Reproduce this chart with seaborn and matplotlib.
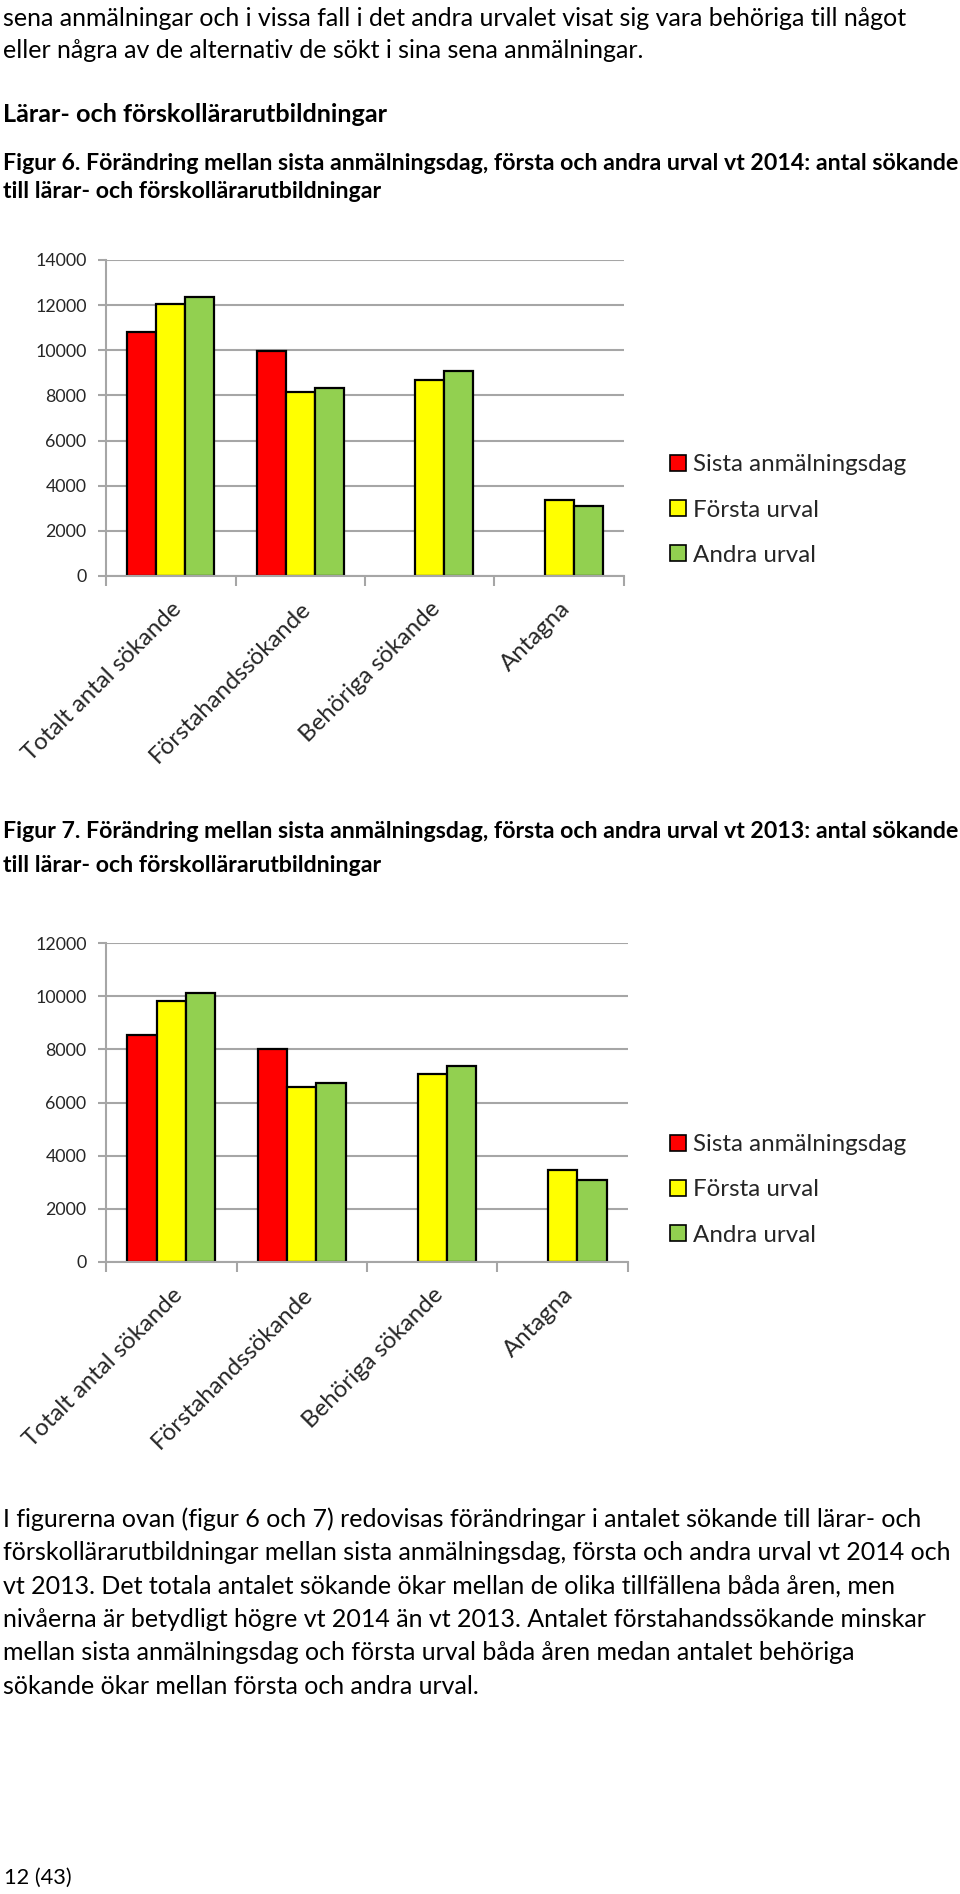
import matplotlib
matplotlib.use('Agg')
import matplotlib.pyplot as plt
import matplotlib.transforms as mtransforms
from matplotlib.patches import Patch
import seaborn as sns
import pandas as pd
import numpy as np

W, H = 960, 1894

# ---- data ----
categories = ['Totalt antal sökande', 'Förstahandssökande', 'Behöriga sökande', 'Antagna']
series = ['Sista anmälningsdag', 'Första urval', 'Andra urval']
colors = ['#FF0000', '#FFFF00', '#92D050']

sista_2014 = [10790, 9970, np.nan, np.nan]
forsta_2014 = [12060, 8160, 8680, 3360]
andra_2014 = [12380, 8340, 9090, 3100]

sista_2013 = [8530, 8020, np.nan, np.nan]
forsta_2013 = [9830, 6570, 7080, 3460]
andra_2013 = [10130, 6720, 7380, 3100]

ticks_2014 = [0, 2000, 4000, 6000, 8000, 10000, 12000, 14000]
ticks_2013 = [0, 2000, 4000, 6000, 8000, 10000, 12000]

# ---- texts ----
intro_lines = [
    'sena anmälningar och i vissa fall i det andra urvalet visat sig vara behöriga till något',
    'eller några av de alternativ de sökt i sina sena anmälningar.',
]
heading = 'Lärar- och förskollärarutbildningar'
fig6_lines = [
    'Figur 6. Förändring mellan sista anmälningsdag, första och andra urval vt 2014: antal sökande',
    'till lärar- och förskollärarutbildningar',
]
fig7_lines = [
    'Figur 7. Förändring mellan sista anmälningsdag, första och andra urval vt 2013: antal sökande',
    'till lärar- och förskollärarutbildningar',
]
body_lines = [
    'I figurerna ovan (figur 6 och 7) redovisas förändringar i antalet sökande till lärar- och',
    'förskollärarutbildningar mellan sista anmälningsdag, första och andra urval vt 2014 och',
    'vt 2013. Det totala antalet sökande ökar mellan de olika tillfällena båda åren, men',
    'nivåerna är betydligt högre vt 2014 än vt 2013. Antalet förstahandssökande minskar',
    'mellan sista anmälningsdag och första urval båda åren medan antalet behöriga',
    'sökande ökar mellan första och andra urval.',
]
page_no = '12 (43)'

sns.set_theme(style='white')
plt.rcParams['font.family'] = ['Lato', 'DejaVu Sans']

fig = plt.figure(figsize=(W / 100, H / 100), dpi=100)
fig.patch.set_facecolor('white')

FONT = ['Lato', 'DejaVu Sans']
BODY_SIZE = 18.0
CAPTION_SIZE = 16.7


def px_text(x, y, s, **kw):
    fig.text(x / W, 1 - y / H, s, va='center', ha='left', family=FONT, color='black', **kw)


def make_df(sista, forsta, andra):
    rows = []
    for name, vals in zip(series, [sista, forsta, andra]):
        for cat, v in zip(categories, vals):
            rows.append({'kategori': cat, 'serie': name, 'antal': v})
    return pd.DataFrame(rows)


def draw_chart(box, df, yticks):
    x0, y_top, x1, y_bot = box
    ax = fig.add_axes([x0 / W, 1 - y_bot / H, (x1 - x0) / W, (y_bot - y_top) / H])
    sns.barplot(data=df, x='kategori', y='antal', hue='serie', hue_order=series,
                order=categories, palette=colors, width=0.674, errorbar=None,
                edgecolor='black', linewidth=1.6, saturation=1, legend=False, ax=ax)
    ax.set_xlim(-0.5, len(categories) - 0.5)
    ax.set_ylim(yticks[0], yticks[-1])
    ax.set_yticks(yticks)
    ax.set_yticklabels([str(t) for t in yticks], family=FONT, fontsize=12.8)
    ax.yaxis.grid(True, color='#A6A6A6', linewidth=1.5)
    ax.set_axisbelow(True)
    ax.set_xlabel('')
    ax.set_ylabel('')
    for s in ['top', 'right']:
        ax.spines[s].set_visible(False)
    for s in ['left', 'bottom']:
        ax.spines[s].set_color('#A6A6A6')
        ax.spines[s].set_linewidth(1.5)
    ax.tick_params(axis='y', length=6, width=1.5, color='#A6A6A6', pad=8, direction='out', left=True)
    # category boundary ticks on x
    ax.set_xticks(np.arange(-0.5, len(categories), 1.0), minor=True)
    ax.tick_params(axis='x', which='minor', length=7, width=1.5, color='#A6A6A6', direction='out', bottom=True)
    ax.set_xticks(range(len(categories)))
    ax.set_xticklabels(categories, rotation=45, ha='right', rotation_mode='anchor',
                       family=FONT, fontsize=17.3)
    ax.tick_params(axis='x', which='major', length=0, pad=16)
    offset = mtransforms.ScaledTranslation(0, 0, fig.dpi_scale_trans)
    for lab in ax.get_xticklabels():
        lab.set_transform(lab.get_transform() + offset)
    return ax


def draw_legend(ax, x, y_mid):
    handles = [Patch(facecolor=c, edgecolor='black', linewidth=1.2) for c in colors]
    leg = ax.legend(handles, series, loc='center left', frameon=False,
                    bbox_to_anchor=(x / W, 1 - y_mid / H),
                    bbox_transform=fig.transFigure, handlelength=0.65, handleheight=0.65,
                    handletextpad=0.3, labelspacing=1.0, borderpad=0,
                    prop={'family': FONT, 'size': 17.4})
    return leg


# ---- page text ----
px_text(3, 18, intro_lines[0], fontsize=BODY_SIZE)
px_text(3, 50, intro_lines[1], fontsize=BODY_SIZE)
px_text(3, 115, heading, fontsize=18.2, fontweight='bold')
px_text(3, 163, fig6_lines[0], fontsize=CAPTION_SIZE, fontweight='bold')
px_text(3, 192, fig6_lines[1], fontsize=CAPTION_SIZE, fontweight='bold')

ax1 = draw_chart((106, 260, 624, 576), make_df(sista_2014, forsta_2014, andra_2014), ticks_2014)
draw_legend(ax1, 658, 510)

px_text(3, 831, fig7_lines[0], fontsize=CAPTION_SIZE, fontweight='bold')
px_text(3, 865, fig7_lines[1], fontsize=CAPTION_SIZE, fontweight='bold')

ax2 = draw_chart((106, 943, 628, 1262), make_df(sista_2013, forsta_2013, andra_2013), ticks_2013)
draw_legend(ax2, 658, 1190)

for i, line in enumerate(body_lines):
    px_text(3, 1519 + i * 33.4, line, fontsize=BODY_SIZE)

px_text(4, 1878, page_no, fontsize=15.7)

fig.savefig('out.png', dpi=100, facecolor='white')
